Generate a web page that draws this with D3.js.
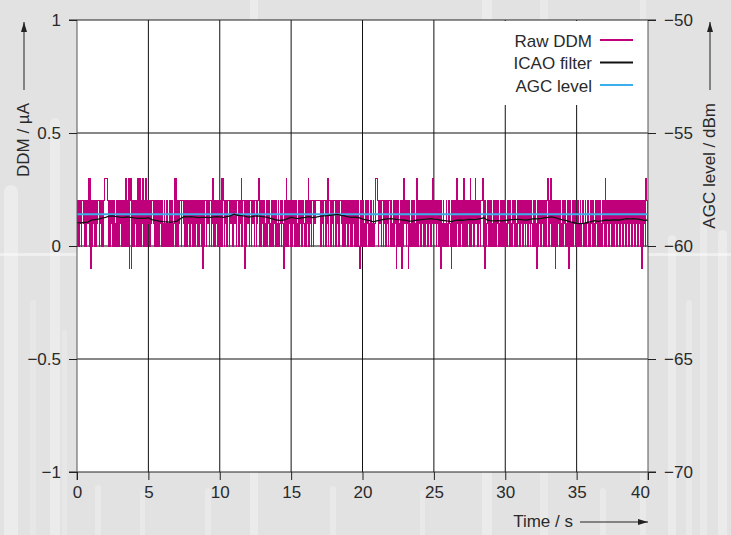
<!DOCTYPE html>
<html>
<head>
<meta charset="utf-8">
<script src="https://cdn.jsdelivr.net/npm/d3@7"></script>
<style>
  html, body { margin: 0; padding: 0; background: #e2e2e2; }
  svg { display: block; font-family: "Liberation Sans", Arial, sans-serif; }
  .tick text, .lbl { fill: #2a2a2a; font-size: 17px; }
</style>
</head>
<body>
<svg id="chart" width="731" height="535"></svg>
<script>
// ---- data ----------------------------------------------------------------
const timeTicks = [0, 5, 10, 15, 20, 25, 30, 35, 40];
const ddmTicks = [-1, -0.5, 0, 0.5, 1];
const agcTicks = [-70, -65, -60, -55, -50];

// Raw DDM samples (µA), one every 0.05 s from 0 s to 40 s (one row per second)
const rawDdmInterval = 0.05;
const rawDdm = [
  0.2,0,0.2,0,0.1,0.2,0,0.2,0.2,0.1,0.2,0,0.2,0,0.2,0.1,0.3,0,0.3,-0.1,
  0.2,0,0.2,0.1,0.2,0,0.2,0,0.1,0.2,0.2,0,0.2,0.1,0,0.2,0,0.2,0.3,0.3,
  0.3,0.3,0.3,0.2,0,0.2,0,0.2,0.1,0.2,0,0.2,0.2,0,0.1,0.2,0,0.2,0,0.2,
  0.1,0.2,0,0.2,0,0.2,0.1,0,0.3,0,0.2,0,0.3,-0.1,0.2,0.3,-0.1,0.2,0,0.2,
  0,0.2,0.1,0.2,0,0.3,0,0.2,0.3,0,0.2,0.1,0.3,0,0.2,0,0.3,0.2,0,0.2,
  0.1,0.2,0,0.2,0.1,0.2,0.2,0.1,0,0.2,0,0.1,0.2,0,0.2,0,0.1,0.2,0,0.2,
  0,0.1,0.2,0,0.1,0,0.2,0,0.1,0,0.2,0,0.1,0.2,0,0.1,0.2,0.3,0,0.3,
  0.2,0,0.2,0.1,0.2,0.2,0,0.2,0.2,0.1,0.2,0,0.2,0.2,0,0.2,0.1,0.2,0,0.2,
  0.1,0.2,0,0.2,0.2,0,0.2,0.1,0.2,0,0.2,0,0.2,0.1,0,0.2,-0.1,0.2,0,0.2,
  0.2,0,0.2,0.1,0.2,0,0.2,0.2,0,0.1,0.3,0,0.2,0,0.2,0.1,0.2,0,0.2,0.2,
  0,0.2,0.3,0,0.3,0.2,0,0.2,0.1,0.2,0,0.2,0.2,0,0.2,0.1,0.2,0.2,0,0.2,
  0.2,0.1,0.2,0,0.2,0.2,0,0.2,0.1,0.2,0.3,0,0.2,0.2,0,-0.1,0.2,0,0.2,0.1,
  0.2,0,0.2,0.2,0,0.2,0.1,0.2,0,0.2,0.2,0,0.1,0.2,0.3,0,0.2,0,0.2,0.1,
  0.2,0,0.2,0.1,0,0.2,0,0.2,0.1,0.2,0,0.1,0.2,0,0.2,0,0.1,0.2,0,0.2,
  0,0.1,0.2,0,0.1,0.2,0,0.2,0.1,0,-0.1,0.2,0,0.3,0.2,0,0.2,0.1,0.2,0,
  0.2,0,0.2,0.1,0.2,0,0.2,0.2,0,0.1,0.2,0,0.2,0.1,0.2,0,0.2,0.2,0.1,0,
  0.2,0,0.2,0.1,0.3,0,0.2,0.1,0,0.2,0.2,0,0.2,0.1,0.2,0.2,0.2,0.2,0.2,0.2,
  0.2,0,0.2,0.1,0.2,0,0.2,0.2,0,0.2,0.1,0.3,0,0.2,0.2,0,0.2,0.1,0.2,0,
  0.2,0.2,0,0.2,0.1,0.2,0.2,0,0.2,0.2,0.1,0.2,0,0.2,0.2,0,0.2,0.1,0.2,0,
  0.2,0.1,0.2,0,0.2,0,0.2,0.1,0.2,0,0.2,0.1,0,0.2,0.1,0,-0.1,0.2,0,0.2,
  0,0.2,0.1,0,0.2,0,0.1,0.2,0,0.1,0,0.2,0,0.1,0,0.2,0,0.1,0.3,0.3,
  0.3,0.2,0,0.2,0.1,0.2,0,0.2,0.2,0,0.1,0.2,0,0.2,0.1,0.2,0,0.2,0.2,0,
  0.2,0,0.1,0.2,0,0.2,0.1,-0.1,0.2,0,0.2,0.1,0,0.2,0,-0.1,0.2,0,0.3,0.1,
  0.2,0,0.2,0.1,-0.1,0.2,0,0.1,0,0.2,0,0.1,0.2,0,0.1,0,0.3,0,0.2,0.1,
  0.2,0,0.2,0.1,0.2,0,0.2,0,0.2,0.1,0.2,0,0.2,0.1,0.2,0,0.2,0.1,0.3,0,
  0.2,0.1,0.2,0,0.2,0.1,0.2,0,0.2,-0.1,0.2,0,0.1,0.2,0,0.1,0,0.2,0,0.1,
  0,0.2,0.1,0,-0.1,0.2,0,0.1,0.2,0,0.2,0,0.3,0.1,0.2,0,0.2,0,0.1,0.2,
  0,0.2,0.3,0,0.1,0.2,0,0.2,0.1,0.2,0,0.3,0,0.2,0.1,0.2,0,0.2,0.3,0.1,
  0.2,0,0.2,0.1,0.2,0,0.2,0.2,0.3,0,0.2,-0.1,0.2,0,0.1,0.2,0,0.2,0,0.1,
  0.2,0,0.1,0.2,0,0.2,0.1,0,0.2,0.1,0.2,0,0.1,0.2,0,0.2,0,0.1,0.2,0,
  0.2,0.1,0,0.2,0.1,0.2,0,0.2,0.1,0,0.2,0.1,0.2,0,0.2,0.1,0,0.2,0.1,0.2,
  0,0.2,0.1,0.2,0,0.2,0.1,0.2,0,0.1,0.2,0,0.2,0.1,0.2,0,0.2,0.1,0,0.2,
  0.2,0,0.2,0.1,-0.1,0.2,0,0.2,0.1,0.2,0,0.2,0.1,0.2,0,0.2,0.2,0,0.2,0.3,
  0.2,0,0.2,0.1,0.3,0,0.2,0.2,0,0.2,-0.1,0.2,0,0.2,0.1,0.2,0,0.2,0.1,0,
  0.2,0,0.1,0.2,0,0.1,0,0.2,0,-0.1,0.2,0,0.1,0,0.2,0,0.1,0.2,0,0.1,
  0,0.2,0,0.1,0,0.2,0,0.1,0.2,0,0.1,0,0.2,0,0.1,0.2,0,0.1,0,0.2,
  0.1,0.2,0,0.2,0.1,0,0.2,0.1,0.2,0,0.1,0.2,0,0.2,0.1,0,0.2,0.1,0.2,0,
  0.3,0,0.2,0.1,0.2,0,0.2,0.1,0.2,0,0.2,0.1,0,0.2,0.1,0.2,0,0.2,0.1,0.2,
  0,0.2,0.1,0.2,0,0.2,0.2,0.1,0.2,0,0.2,0.1,0.2,0,0.2,0.1,0.2,0,0.2,0.1,
  0.2,0,0.2,0.1,0.2,0,0.2,0.1,0.2,0,0.2,-0.1,0.2,0,0.2,0.1,0,0.3,0.2,0,
  0.1
];

// ICAO-filtered DDM (µA), one value every 0.25 s
const icaoInterval = 0.25;
const icaoFilter = [
  0.103,0.102,0.104,0.106,0.114,0.117,0.119,0.123,0.127,0.132,0.133,0.130,0.128,0.127,0.129,0.127,
  0.124,0.122,0.123,0.122,0.125,0.117,0.113,0.110,0.108,0.107,0.106,0.107,0.110,0.121,0.130,0.129,
  0.130,0.128,0.126,0.127,0.128,0.126,0.128,0.130,0.129,0.127,0.130,0.133,0.141,0.136,0.134,0.132,
  0.128,0.130,0.133,0.132,0.130,0.128,0.123,0.119,0.115,0.113,0.115,0.121,0.127,0.123,0.121,0.125,
  0.127,0.130,0.126,0.128,0.131,0.133,0.134,0.136,0.138,0.140,0.136,0.133,0.129,0.127,0.128,0.125,
  0.119,0.116,0.112,0.107,0.111,0.115,0.118,0.120,0.121,0.119,0.117,0.116,0.114,0.110,0.110,0.114,
  0.116,0.118,0.119,0.121,0.119,0.118,0.114,0.112,0.110,0.108,0.113,0.115,0.114,0.116,0.118,0.117,
  0.118,0.121,0.125,0.114,0.112,0.111,0.112,0.111,0.113,0.115,0.117,0.118,0.118,0.116,0.115,0.118,
  0.121,0.120,0.122,0.125,0.127,0.129,0.126,0.120,0.116,0.113,0.108,0.104,0.100,0.099,0.100,0.104,
  0.108,0.112,0.109,0.111,0.115,0.114,0.115,0.116,0.115,0.118,0.121,0.120,0.121,0.119,0.117,0.113,
  0.115
];

// AGC level (dBm), right-hand axis
const agcTime = [0, 40];
const agcLevel = [-58.6, -58.6];

const legendLabels = ["Raw DDM", "ICAO filter", "AGC level"];

// ---- layout ----------------------------------------------------------------
const W = 731, H = 535;
const plot = { left: 77, right: 648, top: 20, bottom: 472 };
const colors = { raw: "#c0007b", icao: "#111111", agc: "#3aaeea" };

const svg = d3.select("#chart");

const x = d3.scaleLinear().domain([0, 40]).range([plot.left, plot.right]);
const y = d3.scaleLinear().domain([-1, 1]).range([plot.bottom, plot.top]);
const yAgc = d3.scaleLinear().domain([-70, -50]).range([plot.bottom, plot.top]);

// faint oscilloscope-style backdrop
const backdrop = svg.append("g").attr("fill", "#ffffff");
const strokes = [
  [4, 185, 14, 0.35], [50, 118, 10, 0.3], [30, 300, 6, 0.2], [62, 330, 5, 0.2],
  [668, 235, 8, 0.3], [686, 300, 6, 0.25], [700, 205, 7, 0.25], [718, 230, 9, 0.3],
  [250, -40, 8, 0.3], [482, -30, 10, 0.3], [540, -40, 8, 0.25], [640, -30, 6, 0.25],
  [95, 485, 6, 0.25], [140, 490, 5, 0.25], [205, 488, 6, 0.25], [330, 486, 6, 0.25],
  [420, 490, 5, 0.25], [600, 488, 6, 0.25]
];
strokes.forEach(([sx, sy, sw, op]) => {
  backdrop.append("rect")
    .attr("x", sx).attr("y", sy).attr("width", sw).attr("height", H - sy + 20)
    .attr("rx", sw / 2).attr("opacity", op);
});
backdrop.append("rect").attr("x", 0).attr("y", 253).attr("width", W).attr("height", 3).attr("opacity", 0.45);

// plot area
svg.append("rect")
  .attr("x", plot.left).attr("y", plot.top)
  .attr("width", plot.right - plot.left).attr("height", plot.bottom - plot.top)
  .attr("fill", "#ffffff");

// grid
const grid = svg.append("g").attr("stroke", "#111").attr("stroke-width", 1);
grid.selectAll("line.v").data(timeTicks.filter(t => t > 0 && t < 40)).join("line")
  .attr("class", "v")
  .attr("x1", d => x(d)).attr("x2", d => x(d))
  .attr("y1", plot.top).attr("y2", plot.bottom);
grid.selectAll("line.h").data(ddmTicks.filter(v => v > -1 && v < 1)).join("line")
  .attr("class", "h")
  .attr("x1", plot.left).attr("x2", plot.right)
  .attr("y1", d => y(d)).attr("y2", d => y(d));

// legend panel (covers the grid behind it)
const legend = svg.append("g");
legend.append("rect")
  .attr("x", 462).attr("y", plot.top + 1).attr("width", plot.right - 463).attr("height", 84)
  .attr("fill", "#ffffff");

// data
svg.append("clipPath").attr("id", "plotClip").append("rect")
  .attr("x", plot.left).attr("y", plot.top)
  .attr("width", plot.right - plot.left).attr("height", plot.bottom - plot.top);
const data = svg.append("g").attr("clip-path", "url(#plotClip)");

const rawLine = d3.line()
  .x((d, i) => x(i * rawDdmInterval))
  .y(d => y(d))
  .curve(d3.curveStepAfter);
data.append("path")
  .datum(rawDdm)
  .attr("d", rawLine)
  .attr("fill", "none")
  .attr("stroke", colors.raw)
  .attr("stroke-width", 1)
  .attr("shape-rendering", "crispEdges");

const agcLine = d3.line()
  .x((d, i) => x(agcTime[i]))
  .y(d => yAgc(d));
data.append("path")
  .datum(agcLevel)
  .attr("d", agcLine)
  .attr("fill", "none")
  .attr("stroke", colors.agc)
  .attr("stroke-width", 2);

const icaoLine = d3.line()
  .x((d, i) => x(i * icaoInterval))
  .y(d => y(d));
data.append("path")
  .datum(icaoFilter)
  .attr("d", icaoLine)
  .attr("fill", "none")
  .attr("stroke", colors.icao)
  .attr("stroke-width", 1.3);

// frame
const frame = svg.append("g").attr("stroke", "#222").attr("stroke-width", 1);
frame.append("line").attr("x1", plot.left - 8).attr("x2", plot.right + 8).attr("y1", plot.top).attr("y2", plot.top);
frame.append("line").attr("x1", plot.left - 8).attr("x2", plot.right + 8).attr("y1", plot.bottom).attr("y2", plot.bottom);
frame.append("line").attr("x1", plot.left).attr("x2", plot.left).attr("y1", plot.top).attr("y2", plot.bottom + 8).attr("stroke", "#555");
frame.append("line").attr("x1", plot.right).attr("x2", plot.right).attr("y1", plot.top).attr("y2", plot.bottom + 8).attr("stroke", "#555");

// axes
const fmt = d3.format("~g");
const axL = svg.append("g").attr("transform", `translate(${plot.left},0)`)
  .call(d3.axisLeft(y).tickValues(ddmTicks).tickSize(8).tickPadding(8).tickFormat(fmt));
const axR = svg.append("g").attr("transform", `translate(${plot.right},0)`)
  .call(d3.axisRight(yAgc).tickValues(agcTicks).tickSize(8).tickPadding(8).tickFormat(fmt));
const axB = svg.append("g").attr("transform", `translate(0,${plot.bottom})`)
  .call(d3.axisBottom(x).tickValues(timeTicks).tickSize(8).tickPadding(6).tickFormat(fmt));
[axL, axR, axB].forEach(a => {
  a.select(".domain").remove();
  a.selectAll(".tick line").attr("stroke", "#222");
  a.attr("font-family", null).attr("font-size", null);
});
axB.selectAll(".tick text").filter(d => d === 40).attr("dx", -8);

// axis titles with arrows
const arrow = svg.append("defs").append("marker")
  .attr("id", "arrowHead").attr("viewBox", "0 0 10 6")
  .attr("refX", 10).attr("refY", 3).attr("markerWidth", 10).attr("markerHeight", 6)
  .attr("markerUnits", "userSpaceOnUse").attr("orient", "auto");
arrow.append("path").attr("d", "M0,0 L10,3 L0,6 Z").attr("fill", "#222");

svg.append("text").attr("class", "lbl")
  .attr("transform", "translate(29,103) rotate(-90)")
  .attr("text-anchor", "end")
  .text("DDM / µA");
svg.append("line").attr("x1", 24).attr("x2", 24).attr("y1", 90).attr("y2", 22)
  .attr("stroke", "#222").attr("marker-end", "url(#arrowHead)");

svg.append("text").attr("class", "lbl")
  .attr("transform", "translate(715,103) rotate(-90)")
  .attr("text-anchor", "end")
  .text("AGC level / dBm");
svg.append("line").attr("x1", 710).attr("x2", 710).attr("y1", 90).attr("y2", 22)
  .attr("stroke", "#222").attr("marker-end", "url(#arrowHead)");

svg.append("text").attr("class", "lbl")
  .attr("x", 573).attr("y", 527).attr("text-anchor", "end")
  .text("Time / s");
svg.append("line").attr("x1", 580).attr("x2", 648).attr("y1", 522).attr("y2", 522)
  .attr("stroke", "#222").attr("marker-end", "url(#arrowHead)");

// legend entries
const legendColors = [colors.raw, colors.icao, colors.agc];
legendLabels.forEach((lab, i) => {
  const ly = 40 + i * 22.5;
  legend.append("text").attr("class", "lbl")
    .attr("x", 592).attr("y", ly + 6.5).attr("text-anchor", "end")
    .text(lab);
  legend.append("line")
    .attr("x1", 600).attr("x2", 633).attr("y1", ly).attr("y2", ly)
    .attr("stroke", legendColors[i]).attr("stroke-width", 2);
});
</script>
</body>
</html>
